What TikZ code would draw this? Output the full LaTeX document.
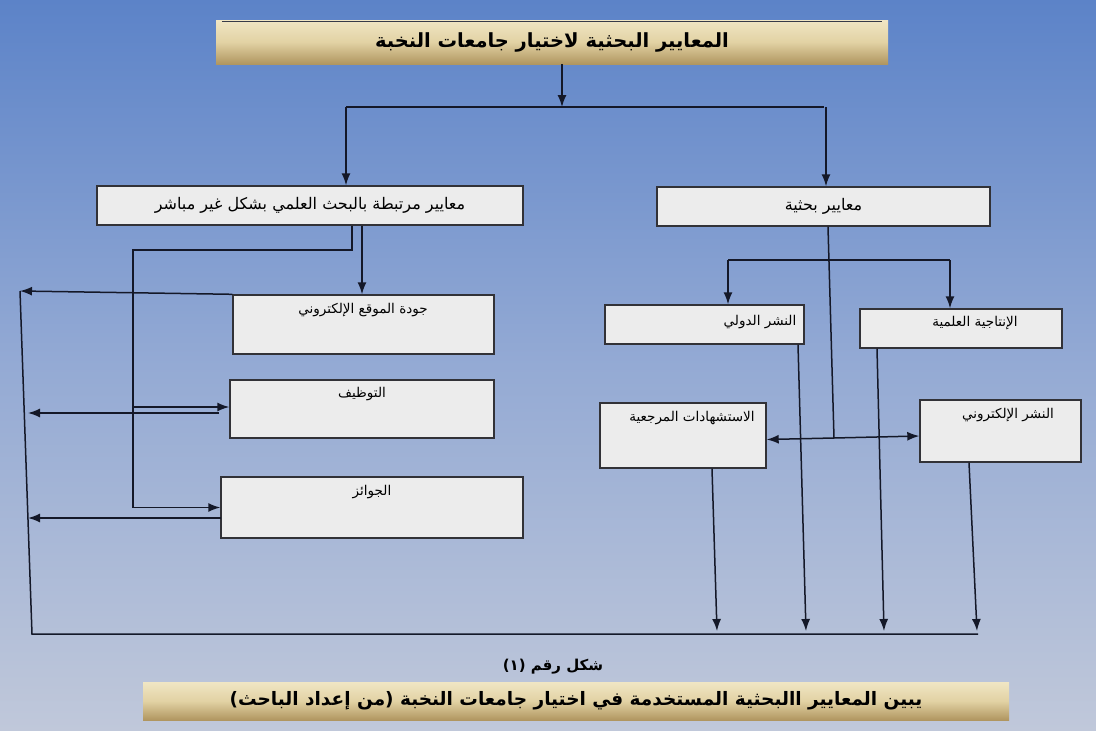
\documentclass[tikz,border=0pt]{standalone}
\usepackage{fontspec}
\usetikzlibrary{arrows.meta}
\TeXXeTstate=1
\newfontfamily\arabicfont[Script=Arabic]{DejaVu Sans}
\definecolor{bgtop}{RGB}{92,131,200}
\definecolor{bgmid}{RGB}{148,170,212}
\definecolor{bgbot}{RGB}{192,200,218}
\definecolor{tantop}{RGB}{240,230,196}
\definecolor{tanmid}{RGB}{226,210,164}
\definecolor{tanbot}{RGB}{176,150,96}
\definecolor{boxfill}{RGB}{236,236,236}
\definecolor{boxline}{RGB}{50,50,55}
\definecolor{linec}{RGB}{20,24,40}
\tikzset{
  x=1pt,y=-1pt,
  titlebox/.style={rectangle,top color=tantop,bottom color=tanbot,middle color=tanmid,draw=none,inner sep=0pt},
  mainbox/.style={rectangle,fill=boxfill,draw=boxline,line width=1.4pt,inner sep=0pt,font=\arabicfont\fontsize{16}{18}\selectfont},
  subbox/.style={rectangle,fill=boxfill,draw=boxline,line width=1.4pt,inner sep=0pt},
  boxtext/.style={font=\arabicfont\fontsize{13.5}{15}\selectfont,inner sep=0pt},
  conn/.style={draw=linec,line width=1.5pt},
  arr/.style={conn,-{Latex[length=12pt,width=9pt]}},
}
\begin{document}
\begin{tikzpicture}
\useasboundingbox (0,0) rectangle (1096,731);
\shade[top color=bgtop,bottom color=bgbot,middle color=bgmid] (0,0) rectangle (1096,731);

% title
\node[titlebox,minimum width=672pt,minimum height=44pt,font=\arabicfont\bfseries\fontsize{19.5}{21}\selectfont] (title) at (552,42) {\beginR المعايير البحثية لاختيار جامعات النخبة\endR};
\coordinate (tl) at ([xshift=6pt,yshift=-1.5pt]title.north west);
\coordinate (tr) at ([xshift=-6pt,yshift=-1.5pt]title.north east);
\draw[line width=1.6pt,draw=linec!85] (tl) -- (tr);

% main boxes
\node[mainbox,minimum width=426pt,minimum height=39pt] (L1) at (310,205.5) {\beginR معايير مرتبطة بالبحث العلمي بشكل غير مباشر\endR};
\node[mainbox,minimum width=333pt,minimum height=39pt] (R1) at (823.5,206.5) {\beginR معايير بحثية\endR};

% left sub boxes
\node[subbox,minimum width=261pt,minimum height=59pt] (jawda) at (363.5,324.5) {};
\node[boxtext] (tjawda) at (363,310) {\beginR جودة الموقع الإلكتروني\endR};
\node[subbox,minimum width=264pt,minimum height=58pt] (tawzif) at (362,409) {};
\node[boxtext] (ttawzif) at (362,394) {\beginR التوظيف\endR};
\node[subbox,minimum width=302pt,minimum height=61pt] (jawaez) at (372,507.5) {};
\node[boxtext] (tjawaez) at (372,492) {\beginR الجوائز\endR};

% right sub boxes
\node[subbox,minimum width=199pt,minimum height=39pt] (dawli) at (704.5,324.5) {};
\node[boxtext] (tdawli) at (760,322) {\beginR النشر الدولي\endR};
\node[subbox,minimum width=202pt,minimum height=39pt] (intaj) at (961,328.5) {};
\node[boxtext] (tintaj) at (975,323) {\beginR الإنتاجية العلمية\endR};
\node[subbox,minimum width=166pt,minimum height=65pt] (istish) at (683,435.5) {};
\node[boxtext] (tistish) at (692,418) {\beginR الاستشهادات المرجعية\endR};
\node[subbox,minimum width=161pt,minimum height=62pt] (elec) at (1000.5,431) {};
\node[boxtext] (telec) at (1008,415) {\beginR النشر الإلكتروني\endR};

% caption
\node[font=\arabicfont\bfseries\fontsize{15}{17}\selectfont,inner sep=0pt] (fig) at (553,667) {\beginR شكل رقم (١)\endR};
\node[titlebox,minimum width=866pt,minimum height=38pt,font=\arabicfont\bfseries\fontsize{18.5}{20}\selectfont] (cap) at (576,701) {\beginR يبين المعايير االبحثية المستخدمة في اختيار جامعات النخبة (من إعداد الباحث)\endR};

% coordinates
\coordinate (s1) at (562,107);
\coordinate (c1) at (133,250);
\coordinate (topL) at (20,291);
\coordinate (botL) at (32,634);
\coordinate (botR) at (978,634);
\coordinate (hL) at (728,260);
\coordinate (hR) at (950,260);
\coordinate (m) at (834,438);
\coordinate (tz1) at (133,407);
\coordinate (tz2) at (219,413);
\coordinate (tz3) at (28,413);
\coordinate (jz1) at (221,518);
\coordinate (jz2) at (28,518);
\coordinate (b1) at (717,631);
\coordinate (b2) at (806,631);
\coordinate (b3) at (884,631);
\coordinate (b4) at (977,631);

% top connectors
\draw[arr] (title.south -| s1) -- (s1);
\draw[conn] ([xshift=36pt]L1.north |- s1) -- (R1.north |- s1);
\draw[arr] ([xshift=36pt]L1.north |- s1) -- ([xshift=36pt]L1.north);
\draw[arr] ([xshift=2.5pt]R1.north |- s1) -- ([xshift=2.5pt]R1.north);

% left side
\draw[arr] ([xshift=-1.5pt]jawda.north |- L1.south) -- ([xshift=-1.5pt]jawda.north);
\draw[arr] ([xshift=42pt]L1.south) |- (c1) |- (jawaez.west);
\draw[arr] (tz1) -- (tawzif.west |- tz1);
\draw[arr] (tz2) -- (tz3);
\draw[arr] (jawda.north west) -- (topL);
\draw[conn] (topL) -- (botL) -- (botR);
\draw[arr] (jz1) -- (jz2);

% right side
\draw[conn] ([xshift=4.5pt]R1.south) -- (m);
\draw[conn] (hL) -- (hR);
\draw[arr] (hL) -- ([xshift=23.5pt]dawli.north);
\draw[arr] (hR) -- ([xshift=-11pt]intaj.north);
\draw[arr] (m) -- ([yshift=-4pt]istish.east);
\draw[arr] (m) -- ([yshift=-5pt]elec.west);
\draw[arr] ([xshift=29pt]istish.south) -- (b1);
\draw[arr] ([xshift=93.5pt]dawli.south) -- (b2);
\draw[arr] ([xshift=-84pt]intaj.south) -- (b3);
\draw[arr] ([xshift=-31.5pt]elec.south) -- (b4);
\end{tikzpicture}
\end{document}
